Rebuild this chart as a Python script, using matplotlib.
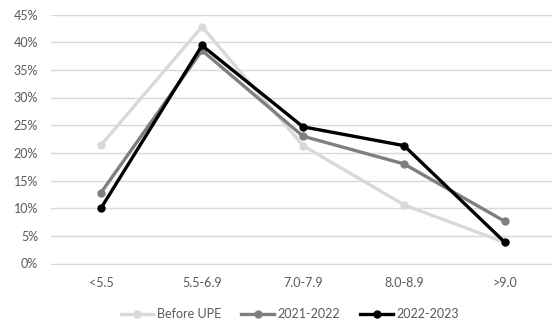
import matplotlib.pyplot as plt
from matplotlib.ticker import PercentFormatter

categories = ["<5.5", "5.5-6.9", "7.0-7.9", "8.0-8.9", ">9.0"]
before_upe = [21.4, 42.8, 21.3, 10.6, 3.8]
y2021_2022 = [12.8, 38.5, 23.0, 18.0, 7.6]
y2022_2023 = [10.0, 39.4, 24.7, 21.3, 3.8]

plt.rcParams['font.family'] = ['Lato', 'DejaVu Sans']

W, H = 552, 326
fig = plt.figure(figsize=(W / 100, H / 100), dpi=100)
# plot area in pixels: left 50, 0% at y=263.5, 45% at y=14.5
ax = fig.add_axes([50.5 / W, (H - 263.5) / H, (W - 50.5) / W, (263.5 - 14.5) / H])

x = range(len(categories))
ax.plot(x, before_upe, color="#d9d9d9", lw=2.4, marker="o", ms=5, label="Before UPE")
ax.plot(x, y2021_2022, color="#7f7f7f", lw=2.4, marker="o", ms=5, label="2021-2022")
ax.plot(x, y2022_2023, color="#000000", lw=2.4, marker="o", ms=5, label="2022-2023")

ax.set_ylim(0, 45)
ax.set_yticks(range(0, 46, 5))
ax.yaxis.set_major_formatter(PercentFormatter(decimals=0))
ax.set_xlim(-0.5, (W - 50.5) / 101 - 0.5)
ax.set_xticks(list(x))
ax.set_xticklabels(categories)

ax.grid(axis="y", color="#d9d9d9", lw=1)
ax.set_axisbelow(True)
for s in ["top", "right", "left"]:
    ax.spines[s].set_visible(False)
ax.spines["bottom"].set_color("#d9d9d9")
ax.tick_params(length=0, labelsize=9, colors="#595959", pad=10)
ax.tick_params(axis="y", pad=9)

fig.legend(loc="center", bbox_to_anchor=(290 / W, (H - 314) / H), ncol=3, frameon=False,
           fontsize=9, labelcolor="#595959", handlelength=2.6, columnspacing=1.6,
           handletextpad=0.3)

fig.savefig("out.png", dpi=100)
